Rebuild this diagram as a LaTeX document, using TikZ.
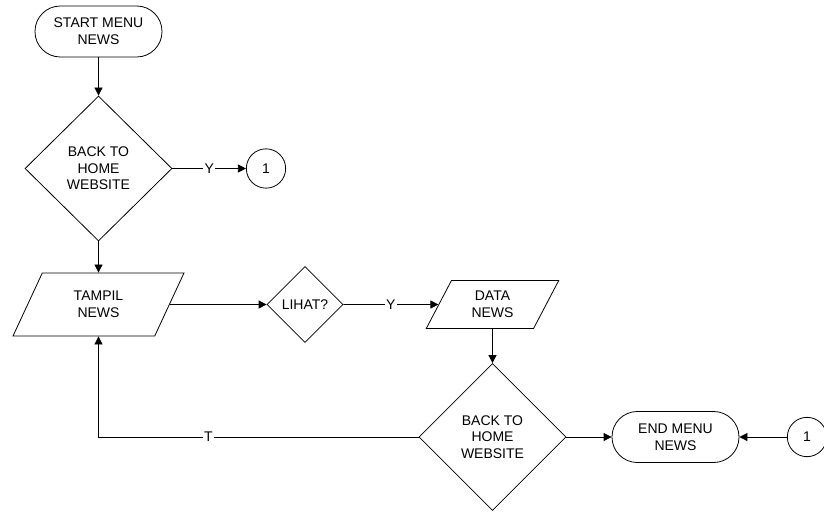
\documentclass[tikz,border=0pt]{standalone}
\usepackage{fontspec}
\setmainfont{Liberation Sans}
\usetikzlibrary{shapes.geometric, arrows.meta}
\tikzstyle{arrow} = [->,>={Triangle[length=6pt,width=6pt]}]
\tikzstyle{terminal} = [draw, rectangle, rounded corners=19pt, minimum width=95.25pt, minimum height=38.25pt, align=center]
\tikzstyle{decision} = [draw, diamond, aspect=1, inner sep=0pt, align=center]
\tikzstyle{io} = [draw, trapezium, trapezium left angle=64, trapezium right angle=116, trapezium stretches=true, inner sep=0pt, align=center]
\tikzstyle{connector} = [draw, circle, minimum size=29.5pt, inner sep=0pt]
\tikzstyle{lbl} = [fill=white, inner sep=1pt]

\begin{document}
\begin{tikzpicture}[x=0.75pt,y=0.75pt,yscale=-1,xscale=1,line width=0.6pt,font=\fontsize{10.5}{12.5}\selectfont]
\useasboundingbox (0,0) rectangle (824,511);

%Shape: Terminal
\node [terminal] (start) at (98.5,31.5) {START MENU\\NEWS};
%Shape: Diamond
\node [decision, minimum width=110.25pt, minimum height=108.75pt] (back1) at (98.5,168.5) {BACK TO\\HOME\\WEBSITE};
%Shape: Circle
\node [connector] (con1) at (266,168.5) {1};
%Shape: Parallelogram
\node [io, minimum width=128.25pt, minimum height=47.25pt] (tampil) at (98.5,304.5) {TAMPIL\\NEWS};
%Shape: Diamond
\node [decision, minimum width=57pt, minimum height=57pt] (lihat) at (305,304.5) {LIHAT?};
%Shape: Parallelogram
\node [io, minimum width=99.75pt, minimum height=36pt] (data) at (492.5,304.5) {DATA\\NEWS};
%Shape: Diamond
\node [decision, minimum width=110.25pt, minimum height=110.25pt] (back2) at (492.5,437) {BACK TO\\HOME\\WEBSITE};
%Shape: Terminal
\node [terminal] (endn) at (675.5,437) {END MENU\\NEWS};
%Shape: Circle
\node [connector] (con2) at (807,437) {1};

%Straight Lines
\draw [arrow] (start) -- (back1);
\draw [arrow] (back1.east) -- node [lbl] {Y} (con1.west);
\draw [arrow] (back1) -- (tampil);
\draw [arrow] (tampil.east) -- (lihat.west);
\draw [arrow] (lihat.east) -- node [lbl] {Y} (data.west);
\draw [arrow] (data) -- (back2);
\draw [arrow] (back2.west) -- node [lbl, pos=0.657] {T} (back2.west -| tampil.south) -- (tampil.south);
\draw [arrow] (back2.east) -- (endn.west);
\draw [arrow] (con2.west) -- (endn.east);

\end{tikzpicture}
\end{document}
